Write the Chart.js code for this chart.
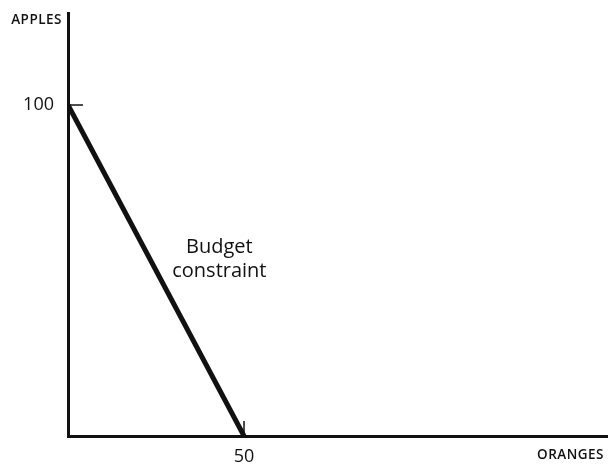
<!DOCTYPE html>
<html>
<head>
<meta charset="utf-8">
<script src="https://cdn.jsdelivr.net/npm/chart.js@4"></script>
<style>
html,body{margin:0;padding:0;background:#fff;}
#wrap{width:608px;height:464px;position:relative;}
</style>
</head>
<body>
<div id="wrap"><canvas id="c" width="608" height="464"></canvas></div>
<script>
const orangesQty = [0, 50];
const applesQty = [100, 0];
const xTicks = [50];
const yTicks = [100];
const xAxisLabel = "ORANGES";
const yAxisLabel = "APPLES";
const curveLabel = ["Budget", "constraint"];
const curveLabelAt = {x: 43, y: 53.5};

const FONT = "'Open Sans', 'Noto Sans', sans-serif";

const decor = {
  id: 'decor',
  afterDraw(chart) {
    const ctx = chart.ctx, xs = chart.scales.x, ys = chart.scales.y, ca = chart.chartArea;
    ctx.save();
    ctx.strokeStyle = '#111';
    ctx.lineWidth = 1.5;
    yTicks.forEach(v => {
      const p = ys.getPixelForValue(v);
      ctx.beginPath(); ctx.moveTo(ca.left, p); ctx.lineTo(ca.left + 15, p); ctx.stroke();
    });
    xTicks.forEach(v => {
      const p = xs.getPixelForValue(v);
      ctx.beginPath(); ctx.moveTo(p, ca.bottom); ctx.lineTo(p, ca.bottom - 15); ctx.stroke();
    });
    ctx.fillStyle = '#111';
    ctx.font = "600 13.5px " + FONT;
    try { ctx.letterSpacing = '0.5px'; } catch (e) {}
    ctx.textBaseline = 'middle';
    ctx.textAlign = 'right';
    ctx.fillText(yAxisLabel, ca.left - 6, 20);
    ctx.fillText(xAxisLabel, 604, 455);
    try { ctx.letterSpacing = '0px'; } catch (e) {}
    ctx.font = "20px " + FONT;
    ctx.textAlign = 'center';
    const lx = xs.getPixelForValue(curveLabelAt.x), ly = ys.getPixelForValue(curveLabelAt.y);
    ctx.fillText(curveLabel[0], lx, ly - 12);
    ctx.fillText(curveLabel[1], lx, ly + 12);
    ctx.restore();
  }
};

function noPad(s) { s.paddingTop = 0; s.paddingBottom = 0; s.paddingLeft = 0; s.paddingRight = 0; }

new Chart(document.getElementById('c'), {
  type: 'line',
  data: {
    datasets: [{
      data: orangesQty.map((x, i) => ({x, y: applesQty[i]})),
      borderColor: '#111',
      borderWidth: 5,
      pointRadius: 0,
      tension: 0,
      fill: false
    }]
  },
  options: {
    responsive: false,
    animation: false,
    layout: {padding: {top: 13, right: 0, left: 0, bottom: 0}},
    plugins: {legend: {display: false}, tooltip: {enabled: false}},
    scales: {
      x: {
        type: 'linear', min: 0, max: 153.4,
        afterBuildTicks: s => { s.ticks = xTicks.map(v => ({value: v})); },
        afterFit: s => { s.height = 28; noPad(s); },
        grid: {display: false},
        border: {display: true, color: '#111', width: 3},
        ticks: {color: '#111', font: {family: FONT, size: 18}, padding: 2}
      },
      y: {
        type: 'linear', min: 0, max: 127.8,
        afterBuildTicks: s => { s.ticks = yTicks.map(v => ({value: v})); },
        afterFit: s => { s.width = 68; noPad(s); },
        grid: {display: false},
        border: {display: true, color: '#111', width: 3},
        ticks: {color: '#111', font: {family: FONT, size: 18}, padding: 6}
      }
    }
  },
  plugins: [decor]
});
</script>
</body>
</html>
